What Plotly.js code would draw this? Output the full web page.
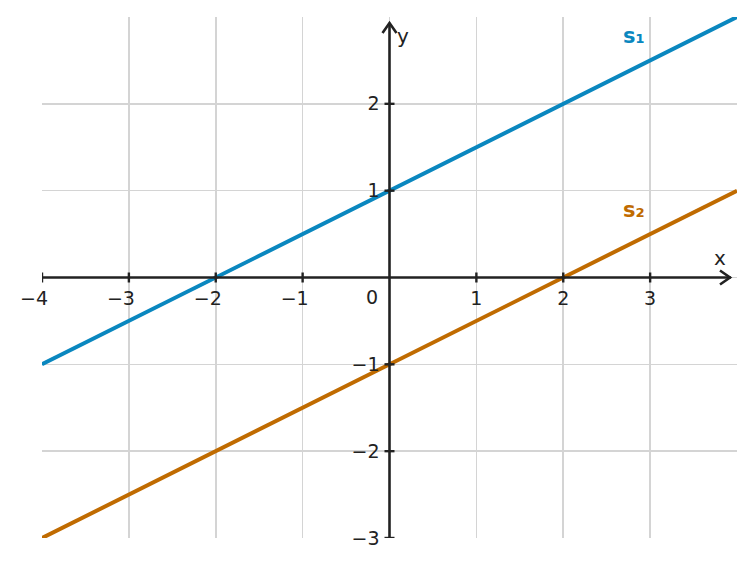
<!DOCTYPE html>
<html>
<head>
<meta charset="utf-8">
<script src="https://cdn.plot.ly/plotly-3.0.1.min.js"></script>
<style>
  html, body { margin: 0; padding: 0; background: #fff; }
  #chart { width: 755px; height: 567px; }
</style>
</head>
<body>
<div id="chart"></div>
<script>
// two parallel lines, slope 1/2
var xs = [-4, 4];
var s1 = [-1, 3];
var s2 = [-3, 1];

var xTicks = [-4, -3, -2, -1, 0, 1, 2, 3, 4];
var xTickText = ['\u22124', '\u22123', '\u22122', '\u22121', '', '1', '2', '3', ''];
var yTicks = [-3, -2, -1, 0, 1, 2, 3];
var yTickText = ['\u22123', '\u22122', '\u22121', '', '1', '2', ''];

var blue = '#0a87bf';
var orange = '#c06b00';
var ink = '#222222';
var font = 'DejaVu Sans, sans-serif';

// keep the digit over the tick: pad negative labels with a hidden minus on the right
var xLabels = xTickText.map(function (t) {
    return t.charAt(0) === '\u2212' ? t + '<span style="color:rgba(0,0,0,0)">\u2212</span>' : t;
});

var data = [
    { x: xs, y: s1, mode: 'lines', line: { color: blue, width: 4 }, hoverinfo: 'skip' },
    { x: xs, y: s2, mode: 'lines', line: { color: orange, width: 4 }, hoverinfo: 'skip' }
];

// axis lines through the origin, with open arrow heads
var shapes = [
    { type: 'line', xref: 'x', yref: 'y', x0: -4, x1: 3.93, y0: 0, y1: 0,
      line: { color: ink, width: 2.6 }, layer: 'above' },
    { type: 'line', xref: 'x', yref: 'y', x0: 0, x1: 0, y0: -3, y1: 2.93,
      line: { color: ink, width: 2.6 }, layer: 'above' },
    { type: 'path', xref: 'x', yref: 'y', xsizemode: 'pixel', ysizemode: 'pixel',
      xanchor: 4, yanchor: 0, path: 'M -17,7 L -7,0 L -17,-7',
      line: { color: ink, width: 2.6 }, layer: 'above' },
    { type: 'path', xref: 'x', yref: 'y', xsizemode: 'pixel', ysizemode: 'pixel',
      xanchor: 0, yanchor: 3, path: 'M -7,-16 L 0,-6 L 7,-16',
      line: { color: ink, width: 2.6 }, layer: 'above' }
];

// small tick marks crossing the axes
[-4, -3, -2, -1, 1, 2, 3].forEach(function (v) {
    shapes.push({ type: 'line', xref: 'x', yref: 'y', ysizemode: 'pixel', yanchor: 0,
        x0: v, x1: v, y0: -5, y1: 5, line: { color: ink, width: 2.4 }, layer: 'above' });
});
[-3, -2, -1, 1, 2].forEach(function (v) {
    shapes.push({ type: 'line', xref: 'x', yref: 'y', xsizemode: 'pixel', xanchor: 0,
        y0: v, y1: v, x0: -5, x1: 5, line: { color: ink, width: 2.4 }, layer: 'above' });
});

var annotations = [
    { x: 2.82, y: 2.78, text: '<b>s\u2081</b>', showarrow: false, font: { family: font, size: 21, color: blue } },
    { x: 2.82, y: 0.78, text: '<b>s\u2082</b>', showarrow: false, font: { family: font, size: 21, color: orange } },
    { x: 3.8, y: 0.23, text: 'x', showarrow: false, font: { family: font, size: 20, color: ink } },
    { x: 0.16, y: 2.78, text: 'y', showarrow: false, font: { family: font, size: 20, color: ink } },
    { x: -0.2, y: -0.22, text: '0', showarrow: false, font: { family: font, size: 19, color: ink } }
];

var layout = {
    width: 755,
    height: 567,
    margin: { l: 42, r: 18, t: 17, b: 29 },
    paper_bgcolor: '#ffffff',
    plot_bgcolor: '#ffffff',
    showlegend: false,
    font: { family: font, size: 19, color: ink },
    xaxis: {
        range: [-4, 4],
        tickvals: xTicks,
        ticktext: xLabels,
        anchor: 'free',
        position: 0.5,
        showgrid: true,
        gridcolor: '#d4d4d4',
        gridwidth: 1.6,
        zeroline: false,
        showline: false,
        ticks: '',
        ticklabelstandoff: 7,
        tickfont: { family: font, size: 19, color: ink },
        fixedrange: true
    },
    yaxis: {
        range: [-3, 3],
        tickvals: yTicks,
        ticktext: yTickText,
        anchor: 'free',
        position: 0.5,
        showgrid: true,
        gridcolor: '#d4d4d4',
        gridwidth: 1.6,
        zeroline: false,
        showline: false,
        ticks: '',
        ticklabelstandoff: 10,
        tickfont: { family: font, size: 19, color: ink },
        fixedrange: true
    },
    shapes: shapes,
    annotations: annotations
};

Plotly.newPlot('chart', data, layout, { displayModeBar: false, staticPlot: true });
</script>
</body>
</html>
